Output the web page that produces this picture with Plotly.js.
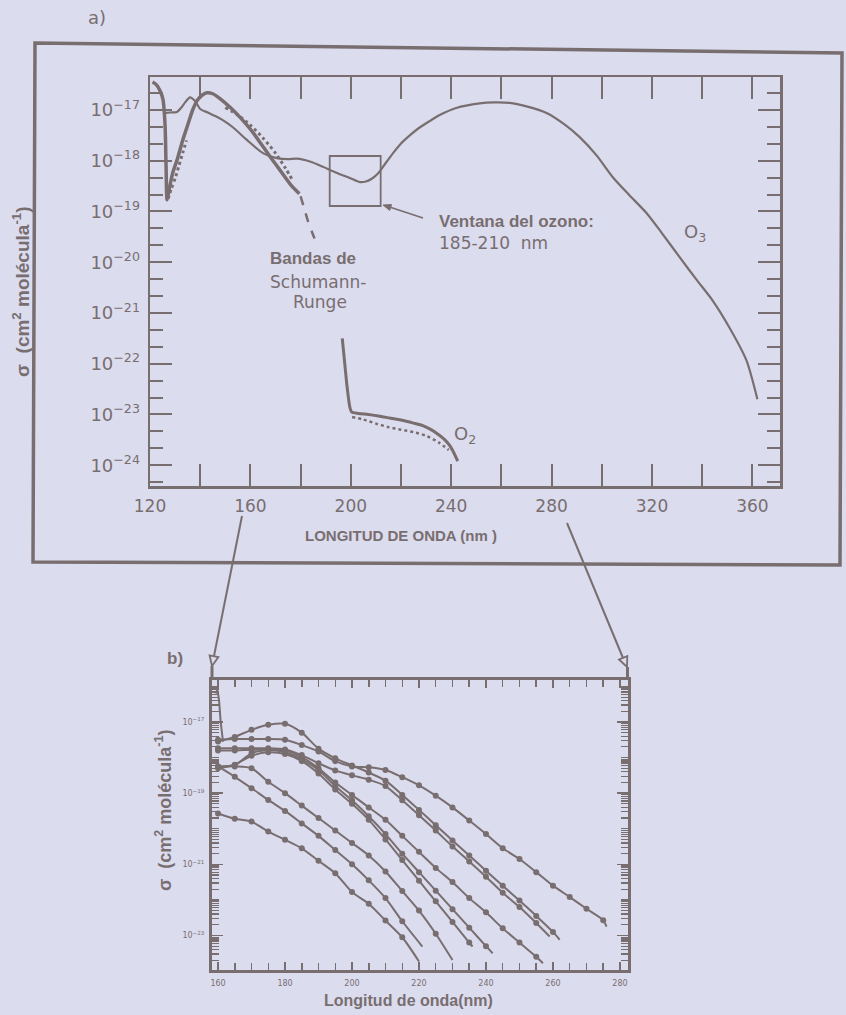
<!DOCTYPE html>
<html><head><meta charset="utf-8">
<script src="https://cdn.plot.ly/plotly-3.0.1.min.js"></script>
<style>html,body{margin:0;padding:0;background:#dcdcef;}#chart{width:846px;height:1015px;}</style>
</head><body><div id="chart"></div>
<script>
// ---------- Panel a) data (log10 of sigma) ----------
const o3Wave = [125.5,128,130.7,132.5,134,135.9,137.9,140,143,146,149,153,158.6,165,170.5,175,178.5,184,188.9,194,199.6,203.6,206,208.5,211,214,217,220,223.5,227,231.4,235.4,242,251.3,257,263.3,270,278,285,291.1,298,304.3,311,317.8,324,331,337.5,344.1,351,357.6,362];
const o3Log  = [-17.06,-17.05,-17.04,-16.95,-16.85,-16.75,-16.82,-16.98,-17.05,-17.12,-17.2,-17.34,-17.59,-17.85,-17.95,-17.97,-17.96,-18.02,-18.12,-18.23,-18.34,-18.42,-18.41,-18.35,-18.24,-18.04,-17.84,-17.66,-17.5,-17.36,-17.22,-17.1,-16.96,-16.87,-16.85,-16.86,-16.93,-17.06,-17.28,-17.53,-17.9,-18.32,-18.68,-19.03,-19.43,-19.9,-20.33,-20.75,-21.3,-21.93,-22.7];

const o2SrWave = [121,122.5,124,125.2,126,126.4,126.8,127.5,129,131,133,135,137,139,141,142.7,145,148,152,156,160,164,168,172,176,179.5];
const o2SrLog  = [-16.45,-16.5,-16.62,-16.8,-17.3,-18.1,-18.77,-18.6,-18.25,-17.95,-17.6,-17.3,-17.0,-16.8,-16.7,-16.66,-16.68,-16.78,-16.95,-17.15,-17.38,-17.65,-17.93,-18.2,-18.47,-18.65];
const o2RiseScatWave = [127.2,128.5,130,131.5,133,134.5];
const o2RiseScatLog  = [-18.75,-18.55,-18.35,-18.1,-17.85,-17.6];
const o2FallScatWave = [150,155,160,165,170,174,177];
const o2FallScatLog  = [-16.95,-17.1,-17.3,-17.55,-17.85,-18.15,-18.4];
const o2BandWave = [180,181.5,183,184.5,186.5];
const o2BandLog  = [-18.7,-18.95,-19.2,-19.4,-19.65];
const o2HzWave = [196.6,197.2,197.8,198.4,199.0,199.6,200.3,203,207,211,215.5,220,225,228.7,232,235,237.5,239.5,241,242.6];
const o2HzLog  = [-21.5,-21.8,-22.1,-22.4,-22.65,-22.85,-22.95,-22.98,-23.0,-23.03,-23.07,-23.11,-23.17,-23.22,-23.3,-23.4,-23.5,-23.62,-23.75,-23.92];
const o2HzScatWave = [200.5,205,210,215,220,225,230,235,239];
const o2HzScatLog  = [-23.05,-23.1,-23.18,-23.25,-23.3,-23.35,-23.42,-23.55,-23.7];

const aXTicks = [120,160,200,240,280,320,360];
const aXTickText = ['120','160','200','240','280','320','360'];
const aYTickExp = [-24,-23,-22,-21,-20,-19,-18,-17];
const aYTickText = ['10<sup>−24</sup>','10<sup>−23</sup>','10<sup>−22</sup>','10<sup>−21</sup>','10<sup>−20</sup>','10<sup>−19</sup>','10<sup>−18</sup>','10<sup>−17</sup>'];

// ---------- Panel b) data (log10 of sigma) ----------
const bWaveA = [160,165,170,175,180,185,190,195,200,205,210,215,220,225,230,235,240,245,250,255,260,265,270,275,276];
const bLogA  = [-17.5,-17.48,-17.48,-17.48,-17.5,-17.65,-17.83,-18.1,-18.25,-18.27,-18.35,-18.55,-18.78,-19.07,-19.4,-19.77,-20.15,-20.55,-20.85,-21.22,-21.6,-21.92,-22.25,-22.57,-22.75];
const bWaveC = [160,165,170,175,180,185,190,195,200,205,210,215,220,225,230,235,240,245,250,255,260,262];
const bLogC  = [-17.55,-17.42,-17.22,-17.08,-17.05,-17.3,-17.75,-18.02,-18.22,-18.42,-18.65,-19.05,-19.47,-19.9,-20.33,-20.75,-21.18,-21.6,-22.02,-22.45,-22.9,-23.12];
const bWaveB = [160,165,170,175,180,185,190,195,200,205,210,215,220,225,230,235,240,245,250,255,259];
const bLogB  = [-17.74,-17.74,-17.74,-17.74,-17.77,-17.93,-18.16,-18.36,-18.5,-18.62,-18.8,-19.2,-19.62,-20.05,-20.5,-20.92,-21.35,-21.8,-22.2,-22.65,-23.03];
const bWaveD = [160,165,170,175,180,185,190,195,200,205,210,215,220,225,230,235,240,245,250,255,257];
const bLogD  = [-18.26,-18.21,-17.88,-17.79,-17.8,-17.99,-18.3,-18.7,-19.05,-19.4,-19.75,-20.2,-20.65,-21.1,-21.5,-21.95,-22.35,-22.8,-23.2,-23.6,-23.78];
const bWaveE = [160,165,170,175,180,185,190,195,200,205,210,215,220,225,230,235,240,242];
const bLogE  = [-17.8,-17.8,-17.78,-17.78,-17.85,-18.05,-18.35,-18.8,-19.2,-19.65,-20.15,-20.7,-21.22,-21.74,-22.26,-22.78,-23.3,-23.5];
const bWaveF = [160,165,170,175,180,185,190,195,200,205,210,215,220,225,230,235,236];
const bLogF  = [-18.3,-18.2,-17.95,-17.85,-17.9,-18.1,-18.45,-18.9,-19.3,-19.75,-20.3,-20.88,-21.46,-22.04,-22.62,-23.2,-23.31];
const bWaveG = [160,165,170,175,180,185,190,195,200,205,210,215,220,225,230];
const bLogG  = [-18.25,-18.25,-18.3,-18.68,-19.0,-19.35,-19.7,-20.05,-20.4,-20.75,-21.2,-21.75,-22.3,-22.95,-23.69];
const bWaveI = [160,165,170,175,180,185,190,195,200,205,210,215,221];
const bLogI  = [-18.25,-18.54,-18.86,-19.19,-19.5,-19.85,-20.2,-20.6,-21.0,-21.45,-21.95,-22.6,-23.31];
const bWaveH = [160,165,170,175,180,185,190,195,200,205,210,215,220];
const bLogH  = [-19.57,-19.72,-19.8,-20.08,-20.31,-20.55,-20.9,-21.25,-21.78,-22.11,-22.58,-23.05,-23.73];
const bSpikeWave = [159.4,159.8,160.3,160.8,161.5];
const bSpikeLog  = [-16.2,-16.1,-16.4,-17.0,-17.55];

const bXTicks = [160,180,200,220,240,260,280];
const bXTickText = ['160','180','200','220','240','260','280'];
const bYTickExp = [-23,-21,-19,-17];
const bYTickText = ['10<sup>−23</sup>','10<sup>−21</sup>','10<sup>−19</sup>','10<sup>−17</sup>'];

// ---------- styling ----------
const INK = '#786e6f';
const BG = '#dcdcef';
const FONT = 'Liberation Sans, Arial, sans-serif';
const THIN = 'DejaVu Sans, Liberation Sans, sans-serif';
const W = 846, H = 1015;
const px = v => v / W, py = v => 1 - v / H;
const pow = a => a.map(v => Math.pow(10, v));

function line(x, ylog, xa, ya, width, dash) {
  return {x: x, y: pow(ylog), xaxis: xa, yaxis: ya, type: 'scatter', mode: 'lines',
    line: {color: INK, width: width, shape: 'spline', smoothing: 0.7, dash: dash || 'solid'},
    hoverinfo: 'skip'};
}
function marks(x, ylog) {
  return {x: x.slice(0, -1), y: pow(ylog.slice(0, -1)), xaxis: 'x2', yaxis: 'y2', type: 'scatter',
    mode: 'markers', marker: {color: INK, size: 6}, hoverinfo: 'skip'};
}

const traces = [
  line(o3Wave, o3Log, 'x', 'y', 2.2),
  line(o2SrWave, o2SrLog, 'x', 'y', 3.5),
  line(o2RiseScatWave, o2RiseScatLog, 'x', 'y', 3, 'dot'),
  line(o2FallScatWave, o2FallScatLog, 'x', 'y', 3, 'dot'),
  line(o2BandWave, o2BandLog, 'x', 'y', 2.5, 'dash'),
  line(o2HzWave, o2HzLog, 'x', 'y', 3),
  line(o2HzScatWave, o2HzScatLog, 'x', 'y', 2.5, 'dot'),
];
const bSeries = [[bWaveA,bLogA],[bWaveC,bLogC],[bWaveB,bLogB],[bWaveD,bLogD],[bWaveE,bLogE],[bWaveF,bLogF],[bWaveG,bLogG],[bWaveI,bLogI],[bWaveH,bLogH]];
bSeries.forEach(s => { traces.push(line(s[0], s[1], 'x2', 'y2', 2)); traces.push(marks(s[0], s[1])); });
traces.push(line(bSpikeWave, bSpikeLog, 'x2', 'y2', 2));

// minor tick positions
const aMinor = [];
for (let d = -25; d <= -16; d++) { aMinor.push(Math.pow(10, d + 1/3), Math.pow(10, d + 2/3)); }
const bMinor = [];
for (let d = -25; d <= -15; d++) { for (let k = 1; k <= 9; k++) bMinor.push(k * Math.pow(10, d)); }

// paper-space helpers for decorations
const P = (x, y) => px(x) + ',' + py(y);
const tri = (a, b, c) => 'M ' + P(a[0], a[1]) + ' L ' + P(b[0], b[1]) + ' L ' + P(c[0], c[1]) + ' Z';

const layout = {
  width: W, height: H, margin: {l: 0, r: 0, t: 0, b: 0},
  paper_bgcolor: BG, plot_bgcolor: 'rgba(0,0,0,0)', showlegend: false,
  font: {family: FONT, color: INK},
  xaxis: {domain: [px(150), px(780)], range: [120, 371], anchor: 'y',
    tickmode: 'array', tickvals: aXTicks, ticktext: aXTickText,
    ticks: 'inside', ticklen: 22, tickwidth: 2, tickcolor: INK,
    minor: {tickmode: 'linear', tick0: 120, dtick: 20, ticks: 'inside', ticklen: 22, tickwidth: 2, tickcolor: INK},
    showline: true, linecolor: INK, linewidth: 2.5, mirror: 'ticks', showgrid: false, zeroline: false,
    tickfont: {size: 17, color: INK, family: THIN}, ticklabelstandoff: 3},
  yaxis: {domain: [py(486), py(77)], type: 'log', range: [-24.41, -16.35], anchor: 'x',
    tickmode: 'array', tickvals: pow(aYTickExp), ticktext: aYTickText,
    ticks: 'inside', ticklen: 22, tickwidth: 2, tickcolor: INK,
    minor: {tickmode: 'array', tickvals: aMinor, ticks: 'inside', ticklen: 13, tickwidth: 2, tickcolor: INK},
    showline: true, linecolor: INK, linewidth: 2.5, mirror: 'ticks', showgrid: false, zeroline: false,
    tickfont: {size: 18, color: INK, family: THIN}, ticklabelstandoff: 4},
  xaxis2: {domain: [px(212), px(628)], range: [158.2, 282.4], anchor: 'y2',
    tickmode: 'array', tickvals: bXTicks, ticktext: bXTickText,
    ticks: 'inside', ticklen: 8, tickwidth: 1.5, tickcolor: INK,
    minor: {tickmode: 'linear', tick0: 160, dtick: 5, ticks: 'inside', ticklen: 7, tickwidth: 1.5, tickcolor: INK},
    showline: true, linecolor: INK, linewidth: 3, mirror: 'ticks', showgrid: false, zeroline: false,
    tickfont: {size: 8, color: INK, family: THIN}, ticklabelstandoff: 3},
  yaxis2: {domain: [py(970), py(680)], type: 'log', range: [-23.97, -15.82], anchor: 'x2',
    tickmode: 'array', tickvals: pow(bYTickExp), ticktext: bYTickText,
    ticks: 'inside', ticklen: 11, tickwidth: 1.5, tickcolor: INK,
    minor: {tickmode: 'array', tickvals: bMinor, ticks: 'inside', ticklen: 7, tickwidth: 1.2, tickcolor: INK},
    showline: true, linecolor: INK, linewidth: 3, mirror: 'ticks', showgrid: false, zeroline: false,
    tickfont: {size: 8, color: INK, family: THIN}, ticklabelstandoff: 3},
  shapes: [
    {type: 'path', xref: 'paper', yref: 'paper',
      path: 'M ' + P(35, 43) + ' L ' + P(842, 53) + ' L ' + P(840, 565) + ' L ' + P(33, 562) + ' Z',
      line: {color: INK, width: 3.5}},
    {type: 'rect', xref: 'x', yref: 'paper', x0: 191.6, x1: 211.9, y0: py(206), y1: py(156), line: {color: INK, width: 1.8}},
    {type: 'line', xref: 'paper', yref: 'paper', x0: px(423), y0: py(218), x1: px(388), y1: py(206.5), line: {color: INK, width: 1.6}},
    {type: 'path', xref: 'paper', yref: 'paper', path: tri([383, 205], [391.5, 204.6], [389.7, 210.4]), fillcolor: INK, line: {color: INK, width: 1}},
    {type: 'line', xref: 'paper', yref: 'paper', x0: px(242), y0: py(516), x1: px(214), y1: py(656), line: {color: INK, width: 2}},
    {type: 'path', xref: 'paper', yref: 'paper', path: tri([212, 666], [218.4, 657.1], [209.6, 655.3]), line: {color: INK, width: 1.8}},
    {type: 'line', xref: 'paper', yref: 'paper', x0: px(212), x1: px(212), y0: py(666), y1: py(680), line: {color: INK, width: 3}},
    {type: 'line', xref: 'paper', yref: 'paper', x0: px(567), y0: py(523), x1: px(623), y1: py(658), line: {color: INK, width: 2}},
    {type: 'path', xref: 'paper', yref: 'paper', path: tri([627, 667], [627.3, 656.1], [619.0, 659.5]), line: {color: INK, width: 1.8}},
    {type: 'line', xref: 'paper', yref: 'paper', x0: px(627.5), x1: px(627.5), y0: py(667), y1: py(680), line: {color: INK, width: 3}},
  ],
  annotations: []
};

function txt(t, x, y, size, opts, fam) {
  return Object.assign({text: t, xref: 'paper', yref: 'paper', x: px(x), y: py(y), showarrow: false,
    xanchor: 'center', yanchor: 'middle', font: {size: size, color: INK, family: fam || FONT}}, opts || {});
}
const A = layout.annotations;
A.push(txt('a)', 97, 17, 18, {}, THIN));
A.push(txt('<b>b)</b>', 175, 658, 17));
A.push(txt('<b>Bandas de</b>', 313, 258, 17));
A.push(txt('Schumann-', 318, 282, 17, {}, THIN));
A.push(txt('Runge', 320, 302, 17, {}, THIN));
A.push(txt('<b>Ventana del ozono:</b>', 437, 222, 17, {xanchor: 'left'}));
A.push(txt('185-210  nm', 437, 243, 17, {xanchor: 'left'}, THIN));
A.push(txt('O<sub>3</sub>', 695, 233, 18, {}, THIN));
A.push(txt('O<sub>2</sub>', 465, 435, 18, {}, THIN));
A.push(txt('<b>LONGITUD DE ONDA (nm )</b>', 401, 535, 15));
A.push(txt('<b>σ  (cm<sup>2</sup> molécula<sup>-1</sup>)</b>', 21, 292, 19, {textangle: -90}));
A.push(txt('<b>σ  (cm<sup>2</sup> molécula<sup>-1</sup>)</b>', 163, 810, 18, {textangle: -90}));
A.push(txt('<b>Longitud de onda(nm)</b>', 408, 1000, 16));

Plotly.newPlot('chart', traces, layout, {displayModeBar: false, staticPlot: true});
</script></body></html>
